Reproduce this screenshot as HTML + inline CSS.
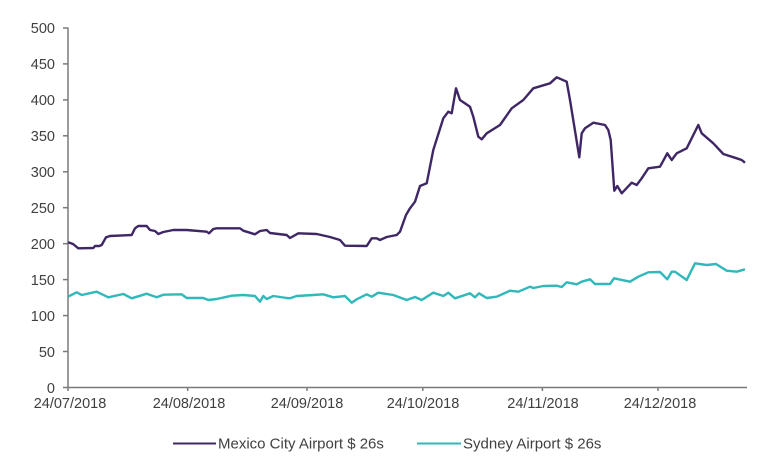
<!DOCTYPE html>
<html><head><meta charset="utf-8"><style>
html,body{margin:0;padding:0;background:#fff;}
svg{display:block;}
text{font-family:"Liberation Sans",Arial,sans-serif;fill:#404040;}
</style></head><body>
<svg width="768" height="471" viewBox="0 0 768 471" xmlns="http://www.w3.org/2000/svg">
<rect width="768" height="471" fill="#fff"/>
<g stroke="#7a7a7a" stroke-width="1.5" fill="none">
<line x1="68" y1="27.5" x2="68" y2="391"/>
<line x1="68" y1="387.5" x2="747" y2="387.5"/>
<line x1="63" y1="28" x2="68" y2="28"/>
<line x1="63" y1="63.9" x2="68" y2="63.9"/>
<line x1="63" y1="99.9" x2="68" y2="99.9"/>
<line x1="63" y1="135.8" x2="68" y2="135.8"/>
<line x1="63" y1="171.8" x2="68" y2="171.8"/>
<line x1="63" y1="207.7" x2="68" y2="207.7"/>
<line x1="63" y1="243.7" x2="68" y2="243.7"/>
<line x1="63" y1="279.6" x2="68" y2="279.6"/>
<line x1="63" y1="315.6" x2="68" y2="315.6"/>
<line x1="63" y1="351.5" x2="68" y2="351.5"/>
<line x1="63" y1="387.5" x2="68" y2="387.5"/>
<line x1="187.7" y1="387.5" x2="187.7" y2="391"/>
<line x1="307" y1="387.5" x2="307" y2="391"/>
<line x1="422.8" y1="387.5" x2="422.8" y2="391"/>
<line x1="542.4" y1="387.5" x2="542.4" y2="391"/>
<line x1="658" y1="387.5" x2="658" y2="391"/>
</g>
<g font-size="14.5" text-anchor="end">
<text x="55" y="33">500</text>
<text x="55" y="69">450</text>
<text x="55" y="105">400</text>
<text x="55" y="141">350</text>
<text x="55" y="177">300</text>
<text x="55" y="213">250</text>
<text x="55" y="249">200</text>
<text x="55" y="285">150</text>
<text x="55" y="321">100</text>
<text x="55" y="357">50</text>
<text x="55" y="393">0</text>
</g>
<g font-size="14.5" text-anchor="middle">
<text x="70" y="408">24/07/2018</text>
<text x="189" y="408">24/08/2018</text>
<text x="307" y="408">24/09/2018</text>
<text x="423" y="408">24/10/2018</text>
<text x="543" y="408">24/11/2018</text>
<text x="660" y="408">24/12/2018</text>
</g>
<polyline fill="none" stroke="#3f2766" stroke-width="2.4" stroke-linejoin="round" points="68,242.3 73,244 78.3,248.3 93.3,248 95,246 99.3,246 101.7,245 106,237.3 110,236 131.7,235 135,228.3 138.3,226 146.7,226 150,230 155,231 158.3,234 163.3,232 173.3,230 186.7,230 206.7,231.7 209,233.3 213.3,229 216.7,228.3 240,228.3 243.3,230.7 255,234.3 260,231 266.7,230 270,233 286.7,235 290,238 298.3,233.3 316.7,234 330,237 340,240 345,245.7 366.7,246 371.7,238.3 376.7,238.3 380,240 386.7,237 396.7,235 400,231.7 406,215 410,208.3 415,201.7 420,186 426.7,183.3 433.3,150 443.3,118.3 448.3,111.7 451.7,113.3 456,88.3 460,100 470,106.7 473.3,116.7 478.3,136.7 481.7,139.3 486.7,133.3 500,125 511.7,108.3 523.3,100 533.3,88.3 550,83.3 556.7,77.3 566.7,81.7 570,100 579.3,157.3 581.7,133.3 585,128.3 593.3,122.7 605,125 608.3,130 610.7,140 614.3,190.7 617.3,186 621.7,193.3 631.7,182.7 636.7,185 641.7,178.3 648.3,168.3 660,166.7 667.3,153.3 671.7,160 676.7,153.3 686.7,148.3 698.3,125 701.7,133.3 713.3,143.3 723.3,154 736.7,158.3 741.7,160 745,162.7"/>
<polyline fill="none" stroke="#30b8bb" stroke-width="2.4" stroke-linejoin="round" points="68,296.7 76.7,292.3 81.7,295 96.7,291.7 108.3,297.3 123.3,294 131.7,298.3 146.7,293.7 156.7,297.3 163.3,294.7 181.7,294.3 186.7,298 203.3,298 208.3,300 216.7,299 231.7,295.7 243.3,295 255,296 260,301.7 263.3,296 266.7,299 273.3,296 286.7,298 290,298.3 296.7,296 313.3,295 323.3,294.3 333.3,297.3 345,296 351.7,302.7 356.7,299.3 366.7,294.3 371.7,296.7 378.3,292.7 393.3,295 403.3,298.7 406.7,300 415,297 421.7,300 433.3,292.7 443.3,296 448.3,292.7 455,298.3 470,293.3 475,297.3 479,293.3 486.7,298 496.7,296.7 510,290.7 518.3,291.7 530,286.7 533.3,288 543.3,286 556.7,285.7 561.7,287 566.7,282.3 576.7,284.3 581.7,281.7 590,279.3 595,284 610,284 614,278.3 630,281.7 638.3,276.7 648.3,272.3 660,272 667.3,279.3 671.7,271.7 675,271.7 686.7,280 695,263.3 706.7,265 716,264 726.7,270.7 736.7,271.7 745,269.3"/>
<line x1="173" y1="443.5" x2="216" y2="443.5" stroke="#3f2766" stroke-width="2"/>
<text x="218" y="448.5" font-size="15">Mexico City Airport $ 26s</text>
<line x1="417" y1="443.5" x2="461" y2="443.5" stroke="#30b8bb" stroke-width="2"/>
<text x="463" y="448.5" font-size="15">Sydney Airport $ 26s</text>
</svg>
</body></html>
